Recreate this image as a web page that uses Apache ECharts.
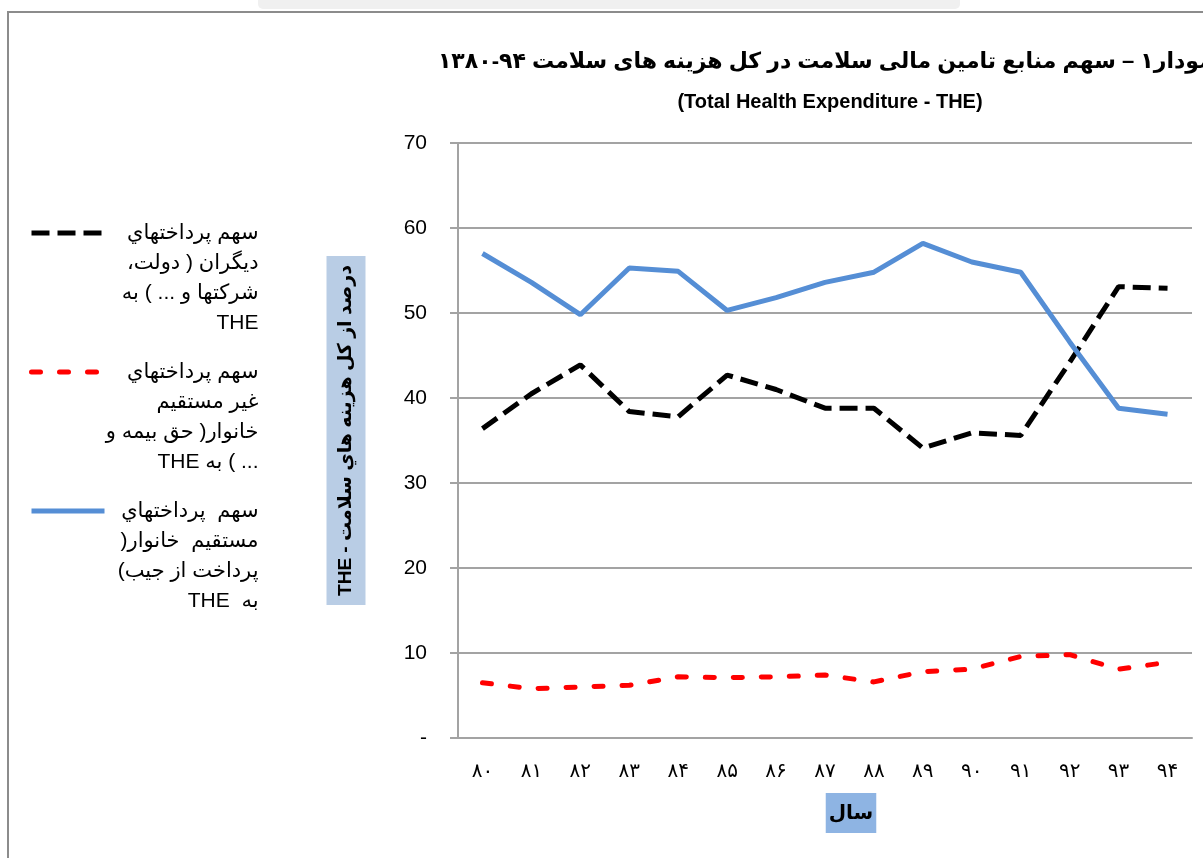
<!DOCTYPE html>
<html>
<head>
<meta charset="utf-8">
<title>سهم منابع تامین مالی سلامت</title>
<script src="https://cdn.jsdelivr.net/npm/echarts@6/dist/echarts.min.js"></script>
<style>
  html, body { margin: 0; padding: 0; background: #fff; }
  #main { width: 1203px; height: 858px; }
</style>
</head>
<body>
<div id="main"></div>
<script>
// bidi helpers: keep Persian runs right-to-left inside the canvas
const RLE = '\u202B';
const PDF = '\u202C';

const years = ['۸۰', '۸۱', '۸۲', '۸۳', '۸۴', '۸۵', '۸۶', '۸۷', '۸۸', '۸۹', '۹۰', '۹۱', '۹۲', '۹۳', '۹۴'];

// share of total health expenditure (%)
const othersShare = [36.4, 40.5, 43.9, 38.4, 37.8, 42.7, 41.0, 38.8, 38.8, 34.1, 35.9, 35.6, 44.2, 53.1, 52.9];
const indirectShare = [6.5, 5.8, 6.0, 6.2, 7.2, 7.1, 7.2, 7.4, 6.6, 7.8, 8.1, 9.6, 9.8, 8.1, 8.9];
const outOfPocketShare = [57.0, 53.6, 49.8, 55.3, 54.9, 50.3, 51.8, 53.6, 54.8, 58.2, 56.0, 54.8, 46.6, 38.8, 38.1];

// legend text, one entry per line as it wraps in the original
const othersLines = ['سهم پرداختهاي', 'ديگران ( دولت،', 'شرکتها و ... ) به', 'THE'];
const indirectLines = ['سهم پرداختهاي', 'غير مستقيم', 'خانوار( حق بيمه و', '... ) به THE'];
const outOfPocketLines = ['سهم  پرداختهاي', 'مستقيم  خانوار(', 'پرداخت از جيب)', 'به  THE'];

const titleText = 'نمودار۱ – سهم منابع تامین مالی سلامت در کل هزینه های سلامت ۹۴-۱۳۸۰';
const subTitleText = '(Total Health Expenditure - THE)';
const yName = 'درصد از کل هزینه هاي سلامت - THE';
const xName = 'سال';

const FONT = "'Liberation Sans', 'DejaVu Sans', sans-serif";
const GRID_COLOR = '#a3a3a3';

const legendLines = {};
legendLines[othersLines.join(' ')] = othersLines;
legendLines[indirectLines.join(' ')] = indirectLines;
legendLines[outOfPocketLines.join(' ')] = outOfPocketLines;

let myChart = echarts.init(document.getElementById('main'));

let option = {
  animation: false,
  textStyle: { fontFamily: FONT },
  title: {
    text: RLE + titleText + PDF,
    subtext: subTitleText,
    left: 830,
    top: 51,
    textAlign: 'center',
    padding: 0,
    itemGap: 19,
    textStyle: { fontFamily: FONT, fontSize: 22, fontWeight: 'bold', color: '#000' },
    subtextStyle: { fontFamily: FONT, fontSize: 20, fontWeight: 'bold', color: '#000' }
  },
  graphic: [
    {
      type: 'rect',
      silent: true,
      shape: { x: 258, y: 0, width: 702, height: 9, r: [0, 0, 5, 5] },
      style: { fill: '#f0f0f0' }
    },
    {
      type: 'polyline',
      silent: true,
      shape: { points: [[8, 858], [8, 12], [1203, 12]] },
      style: { stroke: '#8c8c8c', lineWidth: 2, fill: null }
    }
  ],
  legend: {
    orient: 'vertical',
    left: 29,
    top: 128,
    padding: 0,
    itemGap: -71,
    itemWidth: 73,
    itemHeight: 14,
    selectedMode: false,
    itemStyle: { opacity: 0 },
    lineStyle: { width: 5 },
    formatter: function (name) {
      return legendLines[name].map(function (l) {
        return '{r|' + RLE + l + PDF + '}';
      }).join('\n');
    },
    textStyle: {
      fontFamily: FONT,
      fontSize: 21,
      color: '#000',
      width: 149,
      lineHeight: 30,
      padding: [90, 0, 0, 0],
      rich: {
        r: { fontFamily: FONT, fontSize: 21, lineHeight: 30, align: 'right', color: '#000' }
      }
    }
  },
  grid: {
    left: 458,
    right: 11,
    top: 143,
    bottom: 120,
    outerBoundsMode: 'none'
  },
  xAxis: {
    type: 'category',
    data: years,
    axisLine: { lineStyle: { color: GRID_COLOR, width: 2 } },
    axisTick: { length: 8, lineStyle: { color: GRID_COLOR, width: 2 } },
    axisLabel: { fontFamily: FONT, fontSize: 20, color: '#000', margin: 23 },
    name: '{s| }{a|' + xName + '}',
    nameLocation: 'middle',
    nameGap: 63,
    nameTextStyle: {
      rich: {
        s: { width: 52 },
        a: { fontFamily: FONT, fontSize: 20, fontWeight: 'bold', color: '#000', lineHeight: 24, padding: [10, 3, 10, 3], backgroundColor: '#8eb4e3' }
      }
    }
  },
  yAxis: {
    type: 'value',
    min: 0,
    max: 70,
    interval: 10,
    axisLine: { show: true, lineStyle: { color: GRID_COLOR, width: 2 } },
    axisTick: { show: true, length: 8, lineStyle: { color: GRID_COLOR, width: 2 } },
    splitLine: { lineStyle: { color: GRID_COLOR, width: 2 } },
    axisLabel: {
      fontFamily: FONT,
      fontSize: 21,
      color: '#000',
      margin: 31,
      formatter: function (v) { return v === 0 ? '-' : v; }
    },
    name: '{s| }{a|' + RLE + yName + PDF + '}',
    nameLocation: 'middle',
    nameRotate: 90,
    nameGap: 101,
    nameTextStyle: {
      rich: {
        s: { width: 20 },
        a: { fontFamily: FONT, fontSize: 19, fontWeight: 'bold', color: '#000', lineHeight: 22, padding: [10, 9, 10, 9], backgroundColor: '#b9cde5' }
      }
    }
  },
  series: [
    {
      name: othersLines.join(' '),
      type: 'line',
      data: othersShare,
      symbol: 'none',
      itemStyle: { color: '#000' },
      lineStyle: { color: '#000', width: 5, type: [18, 8], cap: 'butt' }
    },
    {
      name: indirectLines.join(' '),
      type: 'line',
      data: indirectShare,
      symbol: 'none',
      itemStyle: { color: '#ff0000' },
      lineStyle: { color: '#ff0000', width: 5, type: [9, 19], cap: 'round' }
    },
    {
      name: outOfPocketLines.join(' '),
      type: 'line',
      data: outOfPocketShare,
      symbol: 'none',
      itemStyle: { color: '#558ed5' },
      lineStyle: { color: '#558ed5', width: 5 }
    }
  ]
};

myChart.setOption(option);
</script>
</body>
</html>
